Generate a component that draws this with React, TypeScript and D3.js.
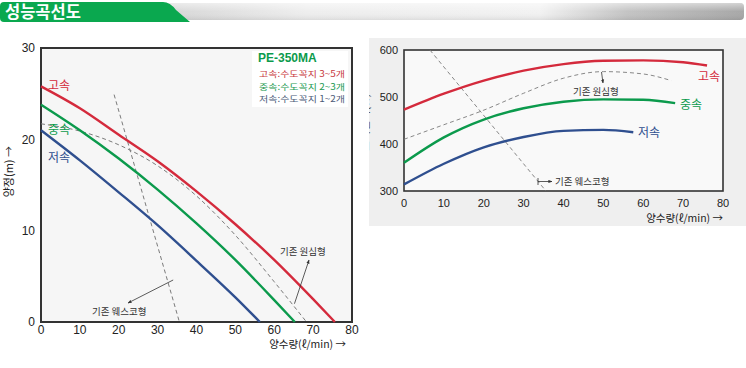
import React from "react";
import * as d3 from "d3";

// 양정 곡선 (left chart), [flow, head]
const headHigh = [[0, 25.8], [10, 23.4], [20, 20.5], [30, 17.6], [40, 14.3], [50, 10.7], [60, 6.8], [70, 2.5], [75.6, 0]];
const headMid = [[0, 23.8], [10, 21.0], [20, 17.9], [30, 14.5], [40, 10.8], [50, 6.8], [60, 2.4], [65.3, 0]];
const headLow = [[0, 21.0], [10, 17.7], [20, 14.2], [30, 10.6], [40, 6.7], [50, 2.7], [56.3, 0]];
const headCentrifugal = [[0, 21.7], [10, 20.9], [20, 19.4], [30, 17.1], [40, 13.8], [50, 9.5], [60, 4.4], [68.3, 0]];
const headWesco = [[18.8, 24.9], [35.6, 0]];

// 소비전력 곡선 (right chart), [flow, watt]
const powerHigh = [[0, 473], [10, 507], [20, 535], [30, 556], [40, 570], [50, 577], [60, 578], [70, 574], [76, 567]];
const powerMid = [[0, 360], [10, 414], [20, 452], [30, 476], [40, 490], [50, 495], [60, 494], [68, 487]];
const powerLow = [[0, 314], [10, 358], [20, 393], [30, 415], [40, 428], [50, 430], [57.5, 425]];
const powerCentrifugal = [[0, 410], [10, 441], [20, 472], [30, 508], [40, 540], [50, 554], [60, 549], [67, 535]];
const powerWesco = [[6.5, 600], [35.6, 300]];

const flowTicks = [0, 10, 20, 30, 40, 50, 60, 70, 80];
const headTicks = [0, 10, 20, 30];
const powerTicks = [300, 400, 500, 600];

const legendTitle = "PE-350MA";
const legendRows = ["고속:수도꼭지 3~5개", "중속:수도꼭지 2~3개", "저속:수도꼭지 1~2개"];

const RED = "#d42a3c";
const GREEN = "#0b9a4c";
const BLUE = "#2f4f8f";
const DASH = "#7a7a7a";
const FONT = "'Liberation Sans', 'Noto Sans CJK KR', sans-serif";
const KFONT = "'Noto Sans CJK KR', 'Liberation Sans', sans-serif";

export default function App() {
  // left chart scales
  const x1 = d3.scaleLinear().domain([0, 80]).range([41, 352]);
  const y1 = d3.scaleLinear().domain([0, 30]).range([322, 48]);
  // right chart scales
  const x2 = d3.scaleLinear().domain([0, 80]).range([404, 723]);
  const y2 = d3.scaleLinear().domain([300, 600]).range([191, 50]);

  const curve1 = d3.line<number[]>().x(d => x1(d[0])).y(d => y1(d[1])).curve(d3.curveMonotoneX);
  const straight1 = d3.line<number[]>().x(d => x1(d[0])).y(d => y1(d[1]));
  const curve2 = d3.line<number[]>().x(d => x2(d[0])).y(d => y2(d[1])).curve(d3.curveMonotoneX);
  const straight2 = d3.line<number[]>().x(d => x2(d[0])).y(d => y2(d[1]));

  const legendColors = ["#c8393d", "#1c9a52", "#4b5a78"];

  return (
    <svg width={746} height={368} style={{ position: "absolute", left: 0, top: 0, background: "#fff" }}>
      <defs>
        <linearGradient id="bar" x1="0" x2="1" y1="0" y2="0">
          <stop offset="0" stopColor="#d6d6d6" />
          <stop offset="0.25" stopColor="#eeeeee" />
          <stop offset="0.65" stopColor="#f2f2f2" />
          <stop offset="0.8" stopColor="#c4c4c4" />
          <stop offset="1" stopColor="#a8a8a8" />
        </linearGradient>
        <linearGradient id="barShade" x1="0" x2="0" y1="0" y2="1">
          <stop offset="0" stopColor="#fff" stopOpacity="0.5" />
          <stop offset="0.5" stopColor="#fff" stopOpacity="0" />
          <stop offset="1" stopColor="#000" stopOpacity="0.08" />
        </linearGradient>
        <marker id="arr" viewBox="0 0 10 10" refX="9" refY="5" markerWidth="5" markerHeight="5" orient="auto">
          <path d="M0,1 L10,5 L0,9 Z" fill="#333" />
        </marker>
        <clipPath id="rightPanel">
          <rect x={369} y={38} width={377} height={188} />
        </clipPath>
      </defs>

      {/* header */}
      <rect x={160} y={3} width={584} height={17} rx={4} fill="url(#bar)" />
      <rect x={160} y={3} width={584} height={17} rx={4} fill="url(#barShade)" />
      <path d="M0,6 Q0,2 4,2 L163,2 Q170,2 176,10 L190,22 L4,22 Q0,22 0,18 Z" fill="#0aa84f" />
      <text x={5} y={18} fill="#fff" fontFamily={KFONT} fontWeight="bold" fontSize={16.5}>성능곡선도</text>

      {/* ===== left chart ===== */}
      <rect x={x1(0)} y={y1(30)} width={x1(80) - x1(0)} height={y1(0) - y1(30)} fill="#f6f6f6" stroke="#333" strokeWidth={2} />
      {headTicks.map(t => (
        <text key={t} x={35} y={y1(t)} dy="0.35em" textAnchor="end" fontFamily={FONT} fontSize={12} fill="#222">{t}</text>
      ))}
      {flowTicks.map(t => (
        <text key={t} x={x1(t)} y={330} dy="0.35em" textAnchor="middle" fontFamily={FONT} fontSize={12} fill="#222">{t}</text>
      ))}
      <text x={346} y={348} textAnchor="end" fontFamily={KFONT} fontSize={10.5} fill="#222">양수량(ℓ/min) →</text>
      <text transform="translate(13,146) rotate(-90)" textAnchor="end" fontFamily={KFONT} fontSize={11} fill="#222">양정(m) →</text>

      <path d={straight1(headWesco) || ""} fill="none" stroke={DASH} strokeWidth={1} strokeDasharray="4,3" />
      <path d={curve1(headCentrifugal) || ""} fill="none" stroke={DASH} strokeWidth={1} strokeDasharray="4,3" />
      <path d={curve1(headHigh) || ""} fill="none" stroke={RED} strokeWidth={2.4} />
      <path d={curve1(headMid) || ""} fill="none" stroke={GREEN} strokeWidth={2.4} />
      <path d={curve1(headLow) || ""} fill="none" stroke={BLUE} strokeWidth={2.4} />

      <text x={48} y={86} dy="0.35em" fontFamily={KFONT} fontSize={12} fill={RED}>고속</text>
      <text x={48} y={130} dy="0.35em" fontFamily={KFONT} fontSize={12} fill={GREEN}>중속</text>
      <text x={48} y={158} dy="0.35em" fontFamily={KFONT} fontSize={12} fill={BLUE}>저속</text>

      {/* legend box */}
      <rect x={252} y={51} width={96} height={56} fill="#fff" />
      <text x={258} y={62} fontFamily={FONT} fontWeight="bold" fontSize={12} fill={GREEN}>{legendTitle}</text>
      {legendRows.map((r, i) => (
        <text key={r} x={259} y={74.5 + i * 12.5} dy="0.35em" fontFamily={KFONT} fontSize={8.5}
          textLength={86} lengthAdjust="spacingAndGlyphs" fill={legendColors[i]}>{r}</text>
      ))}

      {/* annotations */}
      <line x1={x1(34)} y1={y1(4.6)} x2={128} y2={303} stroke="#333" strokeWidth={0.8} markerEnd="url(#arr)" />
      <text x={92} y={312} dy="0.35em" fontFamily={KFONT} fontSize={9.5} fill="#333">기존 웨스코형</text>
      <line x1={x1(65.2)} y1={y1(2)} x2={309} y2={260} stroke="#333" strokeWidth={0.8} markerEnd="url(#arr)" />
      <text x={280} y={252} dy="0.35em" fontFamily={KFONT} fontSize={9.5} fill="#333">기존 원심형</text>

      {/* ===== right chart ===== */}
      <rect x={369} y={38} width={377} height={188} fill="#efefef" />
      <rect x={x2(0)} y={y2(600)} width={x2(80) - x2(0)} height={y2(300) - y2(600)} fill="#f9f9f9" stroke="#333" strokeWidth={1.6} />
      {powerTicks.map(t => (
        <text key={t} x={398} y={y2(t)} dy="0.35em" textAnchor="end" fontFamily={FONT} fontSize={11} fill="#222">{t}</text>
      ))}
      {flowTicks.map(t => (
        <text key={t} x={x2(t)} y={203} dy="0.35em" textAnchor="middle" fontFamily={FONT} fontSize={11} fill="#222">{t}</text>
      ))}
      <text x={723} y={222} textAnchor="end" fontFamily={KFONT} fontSize={10.5} fill="#222">양수량(ℓ/min) →</text>
      <g clipPath="url(#rightPanel)">
        <text transform="translate(369,80) rotate(-90)" textAnchor="end" fontFamily={KFONT} fontSize={11} fill="#555">소비전력(W) →</text>
      </g>

      <path d={straight2(powerWesco) || ""} fill="none" stroke={DASH} strokeWidth={0.9} strokeDasharray="4,3" />
      <path d={curve2(powerCentrifugal) || ""} fill="none" stroke={DASH} strokeWidth={0.9} strokeDasharray="4,3" />
      <path d={curve2(powerHigh) || ""} fill="none" stroke={RED} strokeWidth={2.4} />
      <path d={curve2(powerMid) || ""} fill="none" stroke={GREEN} strokeWidth={2.4} />
      <path d={curve2(powerLow) || ""} fill="none" stroke={BLUE} strokeWidth={2.4} />

      <text x={698} y={77} dy="0.35em" fontFamily={KFONT} fontSize={12} fill={RED}>고속</text>
      <text x={680} y={105} dy="0.35em" fontFamily={KFONT} fontSize={12} fill={GREEN}>중속</text>
      <text x={638} y={133} dy="0.35em" fontFamily={KFONT} fontSize={12} fill={BLUE}>저속</text>

      <line x1={601.5} y1={72} x2={603} y2={83} stroke="#333" strokeWidth={0.8} markerEnd="url(#arr)" />
      <text x={573} y={92} dy="0.35em" fontFamily={KFONT} fontSize={9.5} fill="#333">기존 원심형</text>
      <line x1={538} y1={178} x2={538} y2={185} stroke="#333" strokeWidth={0.8} />
      <line x1={538} y1={181.5} x2={552} y2={181.5} stroke="#333" strokeWidth={0.8} markerEnd="url(#arr)" />
      <text x={555} y={182} dy="0.35em" fontFamily={KFONT} fontSize={9.5} fill="#333">기존 웨스코형</text>
    </svg>
  );
}
